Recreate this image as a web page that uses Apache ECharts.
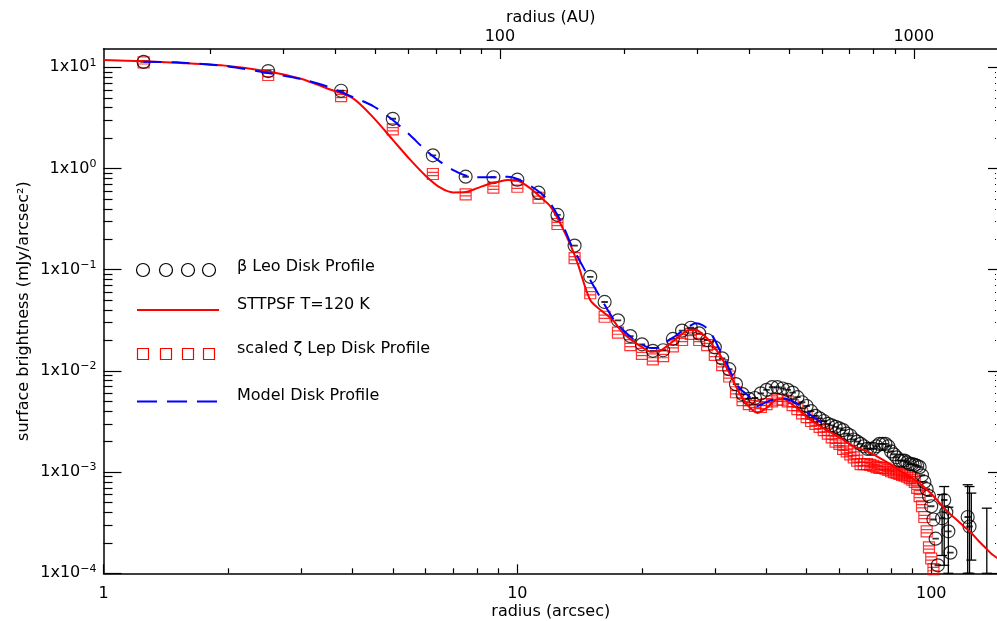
<!DOCTYPE html>
<html><head><meta charset="utf-8">
<script src="https://cdn.jsdelivr.net/npm/echarts@6/dist/echarts.min.js"></script>
<style>html,body{margin:0;padding:0;background:#fff}#c{width:997px;height:621px}</style>
</head><body><div id="c"></div><script>
// ---------- data ----------
const radiusArcsec = [1.25,2.5,3.75,5,6.25,7.5,8.75,10,11.25,12.5,13.75,15,16.25,17.5,18.75,20,21.25,22.5,23.75,25,
 26.25,27.5,28.75,30,31.25,32.5,33.75,35,36.25,37.5,38.75,40,41.25,42.5,43.75,45,46.25,47.5,48.75,50,
 51.25,52.5,53.75,55,56.25,57.5,58.75,60,61.25,62.5,63.75,65,66.25,67.5,68.75,70,71.25,72.5,73.75,75,
 76.25,77.5,78.75,80,81.25,82.5,83.75,85,86.25,87.5,88.75,90,91.25,92.5,93.75,95,96.25,97.5,98.75,100,
 101.25,102.5,103.75,105,106.25,107.5,108.75,110,111.25,112.5,113.75,115,116.25,117.5,118.75,120,121.25,122.5,123.75,125];
const betaLeo = [11.3,9.19,5.87,3.1,1.35,0.83,0.82,0.775,0.577,0.348,0.173,0.085,0.048,0.0316,0.0221,0.0183,0.0158,0.016,0.0207,0.025,
 0.0267,0.0235,0.0202,0.0171,0.0133,0.0104,0.0074,0.0059,0.0053,0.0054,0.006,0.0065,0.0069,0.0069,0.0067,0.0065,0.0061,0.0055,0.0049,0.0045,
 0.004,0.0036,0.0034,0.0032,0.003,0.0029,0.0028,0.0027,0.0026,0.0024,0.0023,0.0021,0.002,0.0019,0.0018,0.0017,0.0017,0.0017,0.0018,0.0019,
 0.0019,0.0019,0.0018,0.0016,0.0015,0.0014,0.0013,0.0013,0.0013,0.00125,0.0012,0.0012,0.00118,0.00115,0.00112,0.00093,0.0008,0.00068,0.00058,0.00046,
 0.00034,0.00022,0.00012,null,0.00035,0.00053,0.0004,0.00026,0.00016,null,null,null,null,null,null,null,null,0.00036,0.00029,null];
const zetaLepScaled = [11.2,8.4,5.2,2.44,0.883,0.556,0.646,0.66,0.514,0.283,0.13,0.0585,0.0343,0.0239,0.018,0.0147,0.013,0.014,0.0175,0.0202,
 0.0232,0.0202,0.018,0.0144,0.0114,0.0088,0.00615,0.00515,0.0047,0.0045,0.0044,0.0047,0.005,0.0052,0.0052,0.005,0.0046,0.0042,0.0038,0.0035,
 0.0032,0.003,0.0028,0.0026,0.0024,0.0022,0.002,0.0019,0.0017,0.0016,0.0015,0.0014,0.0013,0.0012,0.0012,0.0012,0.00118,0.00115,0.00112,0.0011,
 0.0011,0.00108,0.00105,0.00102,0.001,0.00098,0.00096,0.00094,0.00092,0.0009,0.00087,0.00084,0.0008,0.0007,0.00058,0.00046,0.00036,0.00026,0.00018,0.00014,
 0.00011];
const modelRadius = [1,1.25,1.5,2,2.5,3,3.5,4,4.5,5,5.5,6,6.5,7,7.5,8,8.5,9,9.5,10,10.5,11,11.5,12,12.5,13,13.5,14,15,16,17,18,19,20,
 21,22,23,24,25,26,27,28,29,30,31,32,33,34,35,36,37,38,40,42,44,46,48,50,55,60,65,70,75,80,85,90,95,100,105,110,115,120,125,130,135,140,145];
const sttpsf = [11.8,11.5,11.1,10.3,9.1,7.7,6.1,4.96,3.15,1.92,1.23,0.85,0.65,0.58,0.585,0.64,0.7,0.74,0.77,0.76,0.68,0.59,0.5,0.426,0.324,0.236,0.168,0.114,
 0.0502,0.0391,0.0318,0.0237,0.0198,0.0172,0.0155,0.0157,0.0176,0.0202,0.0232,0.0254,0.0254,0.0232,0.0202,0.0168,0.014,0.0109,0.0085,0.0066,0.0054,0.0046,0.0041,0.00384,
 0.0043,0.00515,0.00527,0.00471,0.0041,0.0035,0.0027,0.0022,0.0018,0.0016,0.00138,0.00118,0.001,0.00087,0.00074,0.00061,0.00049,0.0004,0.00034,0.00029,0.00025,0.00021,0.00018,0.000155,0.00014];
const modelDisk = [null,11.36,11.2,10.2,8.79,7.66,6.39,5.09,4.1,3.01,2.14,1.52,1.17,0.966,0.853,0.818,0.818,0.824,0.83,0.787,0.711,0.634,0.553,0.456,0.347,0.253,0.175,0.133,
 0.079,0.0502,0.0333,0.0254,0.0209,0.0182,0.0168,0.017,0.0197,0.0219,0.0248,0.0275,0.0295,0.0284,0.0254,0.0202,0.0154,0.012,0.0091,0.00718,0.00633,0.00578,0.00515,0.0045,
 0.00492,0.00527,0.00533,0.00504,0.0046,0.00392,0.00299];
const errRadius = [106.25,107.5,110,122.5,123.75,125,136.25];
const errLow    = [0.00015,0.00012,0.0001,0.0001,0.0001,0.000135,0.0001];
const errHigh   = [0.0006,0.00072,0.00045,0.00075,0.00072,0.00062,0.00044];
const xMajor = [1,10,100];
const xMinor = [2,3,4,5,6,7,8,9,20,30,40,50,60,70,80,90];
const auMajor = [100,1000];
const auMinor = [20,30,40,50,60,70,80,90,200,300,400,500,600,700,800,900];
const yMajor = [0.0001,0.001,0.01,0.1,1,10];
const yMinor = [2e-4,3e-4,4e-4,5e-4,6e-4,7e-4,8e-4,9e-4,2e-3,3e-3,4e-3,5e-3,6e-3,7e-3,8e-3,9e-3,
 0.02,0.03,0.04,0.05,0.06,0.07,0.08,0.09,0.2,0.3,0.4,0.5,0.6,0.7,0.8,0.9,2,3,4,5,6,7,8,9];
const AU_PER_ARCSEC = 11.02;
const X_MIN = 1, X_MAX = 145, Y_MIN = 1e-4, Y_MAX = 15.17;

// ---------- chart ----------
const FONT = 'DejaVu Sans';
const pairs = (xs, ys) => xs.map((x, i) => [x, ys[i]]).filter(p => p[1] != null);
const circleSym = 'path://M0 10A10 10 0 1 1 20 10A10 10 0 1 1 0 10ZM5 9.5L15 9.5M5 10.5L15 10.5';
const squareSym = 'path://M0 0H20V20H0ZM0 7H20M0 13H20';

function logAxis(o) {
  return Object.assign({
    type: 'log', logBase: 10, splitLine: {show: false}, minorTick: {show: false},
    axisLine: {show: false, onZero: false, lineStyle: {color: '#000', width: 1.5}},
    axisLabel: {show: false}, axisPointer: {show: false}
  }, o);
}
const tickStyle = {color: '#000', width: 1.2};
const nameStyle = {color: '#000', fontSize: 16, fontFamily: FONT};

const yLabelFmt = v => {
  const e = Math.round(Math.log10(v));
  return '{b|1x10}{s|' + String(e).replace('-', '\u2212') + '}';
};

const option = {
  animation: false,
  backgroundColor: '#fff',
  textStyle: {fontFamily: FONT},
  grid: {left: 103.5, top: 49, right: -1, bottom: 621 - 573.3, containLabel: false, outerBoundsMode: 'none'},
  xAxis: [
    logAxis({position: 'bottom', min: X_MIN, max: X_MAX,
      axisLine: {show: true, onZero: false, lineStyle: {color: '#000', width: 1.5}},
      axisTick: {show: true, inside: true, length: 9, lineStyle: tickStyle, customValues: xMajor},
      axisLabel: {show: true, margin: 13, color: '#000', fontSize: 16, fontFamily: FONT, customValues: xMajor, formatter: v => String(v)},
      name: 'radius (arcsec)', nameLocation: 'middle', nameGap: 31, nameMoveOverlap: false, nameTextStyle: nameStyle}),
    logAxis({position: 'bottom', min: X_MIN, max: X_MAX,
      axisTick: {show: true, inside: true, length: 5, lineStyle: tickStyle, customValues: xMinor}}),
    logAxis({position: 'top', min: X_MIN * AU_PER_ARCSEC, max: X_MAX * AU_PER_ARCSEC,
      axisLine: {show: true, onZero: false, lineStyle: {color: '#000', width: 1.5}},
      axisTick: {show: true, inside: true, length: 10, lineStyle: tickStyle, customValues: auMajor},
      axisLabel: {show: true, margin: 4, color: '#000', fontSize: 16, fontFamily: FONT, customValues: auMajor, formatter: v => String(v)},
      name: 'radius (AU)', nameLocation: 'middle', nameGap: 23, nameMoveOverlap: false, nameTextStyle: nameStyle}),
    logAxis({position: 'top', min: X_MIN * AU_PER_ARCSEC, max: X_MAX * AU_PER_ARCSEC,
      axisTick: {show: true, inside: true, length: 5, lineStyle: tickStyle, customValues: auMinor}})
  ],
  yAxis: [
    logAxis({position: 'left', min: Y_MIN, max: Y_MAX,
      axisLine: {show: true, onZero: false, lineStyle: {color: '#000', width: 1.5}},
      axisTick: {show: true, inside: true, length: 18, lineStyle: tickStyle, customValues: yMajor},
      axisLabel: {show: true, margin: 7, color: '#000', customValues: yMajor, formatter: yLabelFmt,
        rich: {b: {fontSize: 16, fontFamily: FONT, color: '#000', lineHeight: 20, verticalAlign: 'middle'},
               s: {fontSize: 11, fontFamily: FONT, color: '#000', lineHeight: 12, verticalAlign: 'top'}}},
      name: 'surface brightness (mJy/arcsec\u00B2)', nameLocation: 'middle', nameGap: 72, nameRotate: 90, nameMoveOverlap: false, nameTextStyle: nameStyle}),
    logAxis({position: 'left', min: Y_MIN, max: Y_MAX,
      axisTick: {show: true, inside: true, length: 9, lineStyle: tickStyle, customValues: yMinor}}),
    logAxis({position: 'right', min: Y_MIN, max: Y_MAX,
      axisLine: {show: true, onZero: false, lineStyle: {color: '#000', width: 1.5}},
      axisTick: {show: true, inside: true, length: 10, lineStyle: tickStyle, customValues: yMajor}}),
    logAxis({position: 'right', min: Y_MIN, max: Y_MAX,
      axisTick: {show: true, inside: true, length: 3, lineStyle: {color: '#000', width: 1, type: 'dotted'}, customValues: yMinor}})
  ],
  series: [
    {name: 'scaled \u03B6 Lep Disk Profile', type: 'scatter', xAxisIndex: 0, yAxisIndex: 0,
      data: pairs(radiusArcsec, zetaLepScaled), symbol: squareSym, symbolSize: 11,
      itemStyle: {color: 'rgba(0,0,0,0)', borderColor: '#ff0000', borderWidth: 1.2}, z: 2},
    {name: '\u03B2 Leo error', type: 'custom', xAxisIndex: 0, yAxisIndex: 0,
      data: errRadius.map((r, i) => [r, errLow[i], errHigh[i]]),
      renderItem: (params, api) => {
        const lo = api.coord([api.value(0), api.value(1)]);
        const hi = api.coord([api.value(0), api.value(2)]);
        const w = 5;
        const st = {stroke: '#000', lineWidth: 1.3};
        return {type: 'group', children: [
          {type: 'line', shape: {x1: lo[0], y1: lo[1], x2: hi[0], y2: hi[1]}, style: st},
          {type: 'line', shape: {x1: hi[0] - w, y1: hi[1], x2: hi[0] + w, y2: hi[1]}, style: st},
          {type: 'line', shape: {x1: lo[0] - w, y1: lo[1], x2: lo[0] + w, y2: lo[1]}, style: st}
        ]};
      }, z: 3},
    {name: '\u03B2 Leo Disk Profile', type: 'scatter', xAxisIndex: 0, yAxisIndex: 0,
      data: pairs(radiusArcsec, betaLeo), symbol: circleSym, symbolSize: 13,
      itemStyle: {color: 'rgba(0,0,0,0)', borderColor: '#000', borderWidth: 1.2}, z: 3},
    {name: 'STTPSF T=120 K', type: 'line', xAxisIndex: 0, yAxisIndex: 0,
      data: pairs(modelRadius, sttpsf), showSymbol: false, symbol: 'none', smooth: 0.3,
      lineStyle: {color: '#ff0000', width: 2}, z: 4},
    {name: 'Model Disk Profile', type: 'line', xAxisIndex: 0, yAxisIndex: 0,
      data: pairs(modelRadius, modelDisk), showSymbol: false, symbol: 'none', smooth: 0.3,
      lineStyle: {color: '#0000ff', width: 2, type: [18, 10]}, z: 5}
  ],
  graphic: [
    // legend
    ...[143, 166, 188, 209].map(x => ({type: 'circle', shape: {cx: x, cy: 270, r: 6.5}, style: {fill: 'none', stroke: '#000', lineWidth: 1.2}})),
    {type: 'text', left: 237, top: 259, style: {text: '\u03B2 Leo Disk Profile', fill: '#000', font: '16px "DejaVu Sans"'}},
    {type: 'line', shape: {x1: 137, y1: 310, x2: 219, y2: 310}, style: {stroke: '#ff0000', lineWidth: 2}},
    {type: 'text', left: 237, top: 297, style: {text: 'STTPSF T=120 K', fill: '#000', font: '16px "DejaVu Sans"'}},
    ...[143, 166, 188, 209].map(x => ({type: 'rect', shape: {x: x - 5.5, y: 348.5, width: 11, height: 11}, style: {fill: 'none', stroke: '#ff0000', lineWidth: 1.2}})),
    {type: 'text', left: 237, top: 341, style: {text: 'scaled \u03B6 Lep Disk Profile', fill: '#000', font: '16px "DejaVu Sans"'}},
    {type: 'line', shape: {x1: 137, y1: 401.5, x2: 219, y2: 401.5}, style: {stroke: '#0000ff', lineWidth: 2, lineDash: [20, 10]}},
    {type: 'text', left: 237, top: 388, style: {text: 'Model Disk Profile', fill: '#000', font: '16px "DejaVu Sans"'}}
  ]
};
const chart = echarts.init(document.getElementById('c'), null, {renderer: 'canvas'});
chart.setOption(option);
</script></body></html>
